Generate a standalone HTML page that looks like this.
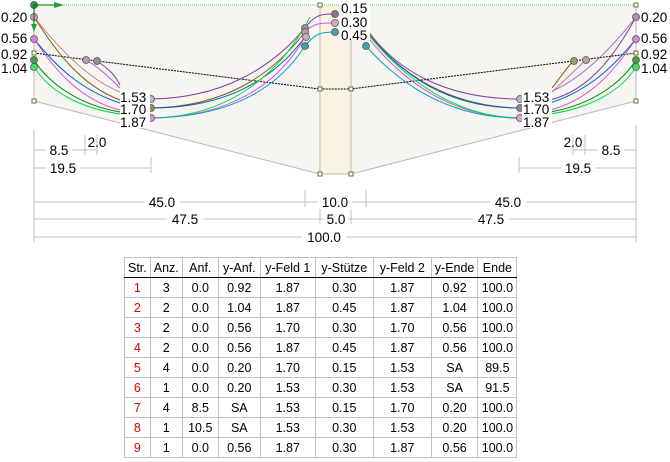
<!DOCTYPE html>
<html><head><meta charset="utf-8"><style>
body{margin:0;background:#fff;width:670px;height:462px;overflow:hidden;font-family:"Liberation Sans",Arial,sans-serif}
svg{position:absolute;left:0;top:0}
table{position:absolute;left:124px;top:257px;border-collapse:collapse;font-size:12.5px;border:1px solid #000}
td{border:1px solid #c0c0c0;height:19px;padding:0 3px;text-align:center;white-space:nowrap}
tr td:first-child{color:#e00000}
tr:first-child td{color:#000;border-bottom:1px solid #000}
</style></head><body>
<svg width="670" height="462" font-size="13.5" font-family="Liberation Sans, Arial, sans-serif">
<polygon points="34,5 636,5 636,101 351,174 320,174 34,101" fill="#f7f5f1"/>
<rect x="320" y="5" width="31" height="169" fill="#f8f3e2"/>
<line x1="34" y1="5" x2="636" y2="5" stroke="#40e040" stroke-dasharray="1,1"/>
<polyline points="34,101 320,174 351,174 636,101" fill="none" stroke="#b8b8b8"/>
<line x1="34" y1="5" x2="34" y2="101" stroke="#b8b8b8"/>
<line x1="636" y1="5" x2="636" y2="101" stroke="#b8b8b8"/>
<line x1="320" y1="5" x2="320" y2="174" stroke="#b8b8b8"/>
<line x1="351" y1="5" x2="351" y2="174" stroke="#b8b8b8"/>
<polyline points="34,53 320,89 351,89 636,53" fill="none" stroke="#000" stroke-dasharray="2,1"/>
<g fill="none" stroke-width="1">
<path d="M34,17 C60,50 90,80 120,92" stroke="#c08080"/>
<path d="M34,17 C55,50 80,85 120,100" stroke="#806000"/>
<path d="M34,39 C55,65 80,90 120,103" stroke="#0060d0"/>
<path d="M34,39 C55,70 80,100 120,110" stroke="#e050e0"/>
<path d="M34,60 C50,85 80,105 120,112" stroke="#008000"/>
<path d="M34,67 C50,92 80,108 120,114" stroke="#00e040"/>
<path d="M97,61 C110,70 115,75 120,85" stroke="#8040a0"/>
<path d="M86,60 C100,68 110,78 120,88" stroke="#a060d0"/>
<path d="M151,99 C220,98 270,70 305,28" stroke="#8040a0"/>
<path d="M151,108 C225,107 272,75 305,32" stroke="#806000"/>
<path d="M151,108 C228,108 275,78 305,37" stroke="#0060d0"/>
<path d="M151,118 C228,117 280,75 310,17" stroke="#00e040"/>
<path d="M151,118 C232,117 280,82 305,37" stroke="#e050e0"/>
<path d="M151,118 C235,117 280,85 305,46" stroke="#00a0c0"/>
<path d="M305,28 C315,14 322,14 335,14" stroke="#8040a0"/>
<path d="M305,32 C315,22 322,23 335,23" stroke="#e050e0"/>
<path d="M305,46 C315,33 322,32 335,32" stroke="#00a0c0"/>
<path d="M366,28 C395,70 445,99 520,99" stroke="#8040a0"/>
<path d="M366,30 C400,75 450,107 520,108" stroke="#806000"/>
<path d="M366,32 C405,78 450,108 520,108" stroke="#0060d0"/>
<path d="M366,35 C405,85 455,117 520,118" stroke="#e050e0"/>
<path d="M366,32 C405,80 455,117 520,118" stroke="#00e040"/>
<path d="M366,46 C405,90 455,118 520,118" stroke="#00a0c0"/>
<path d="M636,17 C610,50 580,80 550,92" stroke="#a060d0"/>
<path d="M636,17 C615,55 590,90 550,100" stroke="#8040a0"/>
<path d="M636,39 C615,65 590,90 550,103" stroke="#0060d0"/>
<path d="M636,39 C615,70 590,100 550,110" stroke="#e050e0"/>
<path d="M636,60 C620,85 590,105 550,112" stroke="#008000"/>
<path d="M636,67 C620,92 590,108 550,114" stroke="#00e040"/>
<path d="M574,60 C565,70 560,78 552,88" stroke="#806000"/>
<path d="M586,60 C575,70 565,80 552,92" stroke="#c08080"/>
</g>
<g stroke="#555" stroke-width="0.8">
<circle cx="34" cy="17" r="3.5" fill="#c8a0b0"/><circle cx="34" cy="39" r="3.5" fill="#e080d0"/>
<circle cx="34" cy="60" r="3.5" fill="#40a040"/><circle cx="34" cy="67" r="3.5" fill="#40e060"/>
<circle cx="636" cy="17" r="3.5" fill="#b090b0"/><circle cx="636" cy="39" r="3.5" fill="#e080d0"/>
<circle cx="636" cy="60" r="3.5" fill="#40a040"/><circle cx="636" cy="67" r="3.5" fill="#40e060"/>
<circle cx="86" cy="60" r="3.5" fill="#b0a0b0"/><circle cx="97" cy="61" r="3.5" fill="#a08890"/>
<circle cx="574" cy="61" r="3.5" fill="#a0a060"/><circle cx="586" cy="60" r="3.5" fill="#c0a0a0"/>
<circle cx="151" cy="99" r="3.5" fill="#c0b0c8"/><circle cx="151" cy="108" r="3.5" fill="#909060"/><circle cx="151" cy="118" r="3.5" fill="#e090d0"/>
<circle cx="520" cy="99" r="3.5" fill="#c0b0c8"/><circle cx="520" cy="108" r="3.5" fill="#908890"/><circle cx="520" cy="118" r="3.5" fill="#e0a0d0"/>
<circle cx="305" cy="28" r="3.5" fill="#9a9090"/><circle cx="305" cy="32" r="3.5" fill="#b0a0a0"/><circle cx="306" cy="37" r="3.5" fill="#c0b0c0"/><circle cx="305" cy="46" r="3.5" fill="#40a0b0"/>
<circle cx="335" cy="14" r="3.5" fill="#907090"/><circle cx="335" cy="23" r="3.5" fill="#d0b0c8"/><circle cx="335" cy="32" r="3.5" fill="#40a0b0"/>
<circle cx="366" cy="46" r="3.5" fill="#40a0b0"/>
<circle cx="34" cy="5" r="3.5" fill="#20a040"/>
</g>
<line x1="34" y1="5" x2="60" y2="5" stroke="#006000"/><polygon points="54,2 64,5 54,8" fill="#20a040"/>
<line x1="34" y1="5" x2="34" y2="30" stroke="#006000"/><polygon points="31,24 34,32 37,24" fill="#20a040"/>
<g fill="#fff" stroke="#707030">
<rect x="32" y="51" width="4" height="4"/><rect x="32" y="99" width="4" height="4"/>
<rect x="634" y="51" width="4" height="4"/><rect x="634" y="99" width="4" height="4"/><rect x="634" y="3" width="4" height="4"/>
<rect x="318" y="3" width="4" height="4"/><rect x="318" y="87" width="4" height="4"/><rect x="349" y="87" width="4" height="4"/>
<rect x="318" y="172" width="4" height="4"/><rect x="349" y="172" width="4" height="4"/>
</g>
<g fill="#fff">
<rect x="0" y="10" width="30" height="62"/><rect x="640" y="10" width="30" height="62"/>
<rect x="120" y="90" width="30" height="38"/><rect x="522" y="90" width="30" height="38"/>
<rect x="340" y="2" width="30" height="38"/>
</g>
<g fill="#000">
<text x="1" y="22">0.20</text><text x="1" y="43">0.56</text><text x="1" y="59">0.92</text><text x="1" y="73">1.04</text>
<text x="641" y="22">0.20</text><text x="641" y="43">0.56</text><text x="641" y="59">0.92</text><text x="641" y="73">1.04</text>
<text x="120" y="102">1.53</text><text x="120" y="114">1.70</text><text x="120" y="127">1.87</text>
<text x="523" y="102">1.53</text><text x="523" y="114">1.70</text><text x="523" y="127">1.87</text>
<text x="341" y="13">0.15</text><text x="341" y="27">0.30</text><text x="341" y="40">0.45</text>
</g>
<g stroke="#c0c0c0" fill="none">
<line x1="34" y1="130" x2="34" y2="242"/><line x1="636" y1="125" x2="636" y2="242"/>
<line x1="34" y1="150" x2="97" y2="150"/><line x1="85" y1="135" x2="85" y2="155"/><line x1="97" y1="135" x2="97" y2="155"/>
<line x1="573" y1="150" x2="636" y2="150"/><line x1="585" y1="135" x2="585" y2="155"/><line x1="573" y1="135" x2="573" y2="155"/>
<line x1="34" y1="168" x2="151" y2="168"/><line x1="151" y1="157" x2="151" y2="173"/>
<line x1="519" y1="168" x2="636" y2="168"/><line x1="519" y1="157" x2="519" y2="173"/>
<line x1="34" y1="202" x2="636" y2="202"/><line x1="305" y1="190" x2="305" y2="207"/><line x1="366" y1="190" x2="366" y2="207"/>
<line x1="34" y1="219" x2="636" y2="219"/><line x1="320" y1="207" x2="320" y2="224"/><line x1="351" y1="207" x2="351" y2="224"/>
<line x1="34" y1="237" x2="636" y2="237"/>
</g>
<g fill="#fff">
<rect x="46" y="143" width="26" height="14"/><rect x="598" y="143" width="26" height="14"/>
<rect x="46" y="161" width="34" height="14"/><rect x="561" y="161" width="34" height="14"/>
<rect x="144" y="195" width="36" height="14"/><rect x="318" y="195" width="34" height="14"/><rect x="490" y="195" width="36" height="14"/>
<rect x="167" y="212" width="36" height="14"/><rect x="324" y="212" width="24" height="14"/><rect x="473" y="212" width="36" height="14"/>
<rect x="302" y="230" width="44" height="14"/>
</g>
<g fill="#000" text-anchor="middle">
<text x="59" y="155">8.5</text><text x="97" y="147">2.0</text><text x="611" y="155">8.5</text><text x="573" y="147">2.0</text>
<text x="63" y="173">19.5</text><text x="578" y="173">19.5</text>
<text x="162" y="207">45.0</text><text x="335" y="207">10.0</text><text x="508" y="207">45.0</text>
<text x="185" y="224">47.5</text><text x="336" y="224">5.0</text><text x="491" y="224">47.5</text>
<text x="324" y="242">100.0</text>
</g>
</svg>
<table>
<tr><td style="width:17px">Str.</td><td style="width:25px">Anz.</td><td style="width:29px">Anf.</td><td style="width:35px">y-Anf.</td><td style="width:48px">y-Feld 1</td><td style="width:51px">y-Stütze</td><td style="width:51px">y-Feld 2</td><td style="width:29px">y-Ende</td><td style="width:32px">Ende</td></tr>
<tr><td>1</td><td>3</td><td>0.0</td><td>0.92</td><td>1.87</td><td>0.30</td><td>1.87</td><td>0.92</td><td>100.0</td></tr>
<tr><td>2</td><td>2</td><td>0.0</td><td>1.04</td><td>1.87</td><td>0.45</td><td>1.87</td><td>1.04</td><td>100.0</td></tr>
<tr><td>3</td><td>2</td><td>0.0</td><td>0.56</td><td>1.70</td><td>0.30</td><td>1.70</td><td>0.56</td><td>100.0</td></tr>
<tr><td>4</td><td>2</td><td>0.0</td><td>0.56</td><td>1.87</td><td>0.45</td><td>1.87</td><td>0.56</td><td>100.0</td></tr>
<tr><td>5</td><td>4</td><td>0.0</td><td>0.20</td><td>1.70</td><td>0.15</td><td>1.53</td><td>SA</td><td>89.5</td></tr>
<tr><td>6</td><td>1</td><td>0.0</td><td>0.20</td><td>1.53</td><td>0.30</td><td>1.53</td><td>SA</td><td>91.5</td></tr>
<tr><td>7</td><td>4</td><td>8.5</td><td>SA</td><td>1.53</td><td>0.15</td><td>1.70</td><td>0.20</td><td>100.0</td></tr>
<tr><td>8</td><td>1</td><td>10.5</td><td>SA</td><td>1.53</td><td>0.30</td><td>1.53</td><td>0.20</td><td>100.0</td></tr>
<tr><td>9</td><td>1</td><td>0.0</td><td>0.56</td><td>1.87</td><td>0.30</td><td>1.87</td><td>0.56</td><td>100.0</td></tr>
</table>
</body></html>
